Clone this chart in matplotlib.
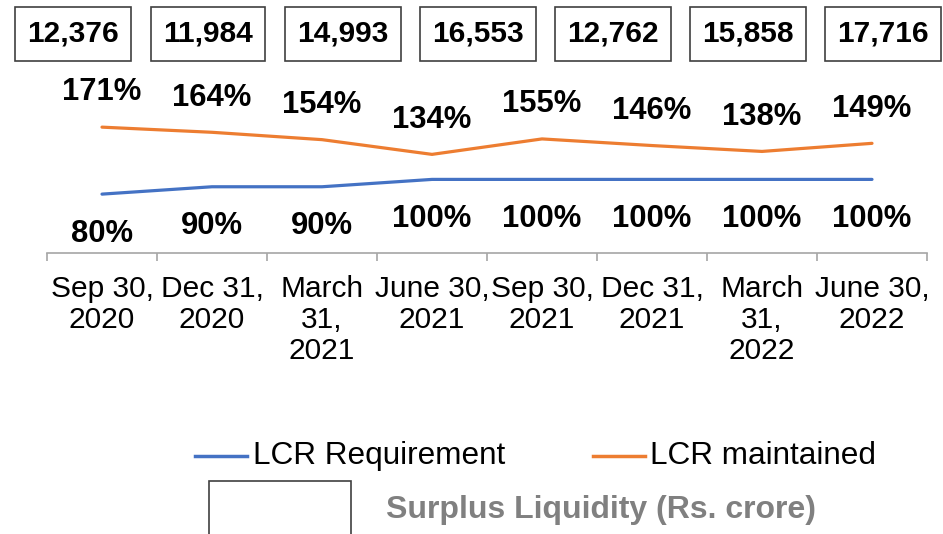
import matplotlib
matplotlib.use("Agg")
import numpy as np
import matplotlib.pyplot as plt
from matplotlib.lines import Line2D
from matplotlib.patches import Rectangle

plt.rcParams['font.family'] = ['Liberation Sans', 'DejaVu Sans']

# data
periods = ["Sep 30,\n2020", "Dec 31,\n2020", "March\n31,\n2021", "June 30,\n2021",
           "Sep 30,\n2021", "Dec 31,\n2021", "March\n31,\n2022", "June 30,\n2022"]
lcr_required = [80, 90, 90, 100, 100, 100, 100, 100]
lcr_maintained = [171, 164, 154, 134, 155, 146, 138, 149]
surplus = [12376, 11984, 14993, 16553, 12762, 15858, 17716]

blue = "#4472C4"
orange = "#ED7D31"
grey_axis = "#A6A6A6"

fig = plt.figure(figsize=(9.43, 5.34), dpi=100)
ax = fig.add_axes([47 / 943, 1 - 253 / 534, 880 / 943, 253 / 534])

x = np.arange(len(periods))
ax.plot(x, lcr_required, color=blue, lw=2.3, solid_capstyle='round')
ax.plot(x, lcr_maintained, color=orange, lw=2.3, solid_capstyle='round')

ax.set_xlim(-0.5, len(periods) - 0.5)
ax.set_ylim(0, 253 / 0.736)

for xi, v in zip(x, lcr_maintained):
    ax.annotate(f"{v}%", (xi, v), xytext=(0, 25), textcoords='offset points',
                ha='center', va='center', fontsize=22.3, fontweight='bold')
for xi, v in zip(x, lcr_required):
    ax.annotate(f"{v}%", (xi, v), xytext=(0, -28.5), textcoords='offset points',
                ha='center', va='center', fontsize=22.3, fontweight='bold')

# surplus liquidity boxes along the top (7 boxes, evenly spaced)
box_x = np.linspace(73 / 943, 883 / 943, len(surplus))
for bx, v in zip(box_x, surplus):
    fig.text(bx, 1 - 34 / 534, f"{v:,}", ha='center', va='center',
             fontsize=21.5, fontweight='bold',
             bbox=dict(boxstyle='square,pad=0.42', fc='white', ec='#404040', lw=1.2))

# axes styling
for s in ['top', 'right', 'left']:
    ax.spines[s].set_visible(False)
ax.spines['bottom'].set_color(grey_axis)
ax.spines['bottom'].set_linewidth(1.2)
ax.set_yticks([])
ax.set_xticks(x)
ax.set_xticklabels(periods, fontsize=21.5, linespacing=1.12)
ax.tick_params(axis='x', which='major', length=0, pad=16)
ax.set_xticks(np.arange(-0.5, len(periods)), minor=True)
ax.tick_params(axis='x', which='minor', length=6, width=1.2, color=grey_axis)

# legend, drawn by hand to follow the reference layout
fig.add_artist(Line2D([195 / 943, 247 / 943], [1 - 456 / 534] * 2, color=blue, lw=2.5))
fig.text(253 / 943, 1 - 456 / 534, "LCR Requirement", fontsize=22.7, va='center')
fig.add_artist(Line2D([593 / 943, 645 / 943], [1 - 456 / 534] * 2, color=orange, lw=2.5))
fig.text(650 / 943, 1 - 456 / 534, "LCR maintained", fontsize=22.7, va='center')
fig.add_artist(Rectangle((209 / 943, -0.02), 142 / 943, (534 - 481) / 534 + 0.02,
                         transform=fig.transFigure, fc='white', ec='#404040', lw=1.2))
fig.text(386 / 943, 1 - 510 / 534, "Surplus Liquidity (Rs. crore)", fontsize=23,
         fontweight='bold', color='#808080', va='center')

fig.savefig("out.png", dpi=100)
